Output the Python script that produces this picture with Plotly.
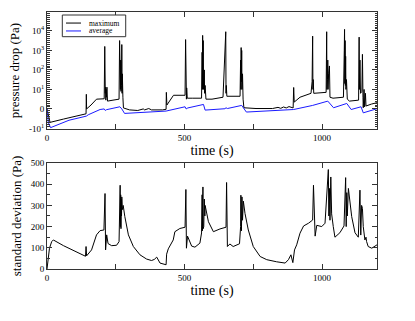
import numpy as np
import plotly.graph_objects as go
from plotly.subplots import make_subplots

# upper panel: pressure drop (Pa), drawn on a symmetric-log axis
max_time = [0, 11, 60, 100, 142, 143, 144, 160, 180, 208, 210, 212, 213, 214, 215, 216, 218, 220,
            240, 262, 264, 265, 266, 267, 268, 269, 270, 271, 272, 273, 274, 276, 278, 300, 330,
            350, 355, 370, 380, 420, 433, 434, 436, 460, 502, 504, 505, 506, 507, 508, 510, 530,
            562, 564, 565, 566, 567, 568, 569, 570, 571, 572, 573, 575, 578, 600, 640, 650, 651,
            652, 654, 690, 702, 704, 705, 706, 707, 708, 709, 711, 713, 716, 760, 820, 840, 850,
            860, 870, 880, 895, 897, 899, 920, 944, 960, 964, 966, 967, 968, 970, 990, 1015, 1017,
            1018, 1019, 1020, 1021, 1022, 1024, 1027, 1029, 1040, 1078, 1081, 1082, 1083, 1084,
            1085, 1086, 1087, 1089, 1092, 1100, 1133, 1135, 1136, 1138, 1140, 1145, 1147, 1149,
            1150, 1153, 1155, 1158, 1160, 1180, 1200]
max_pa = [0, -6.9, -5.2, -3.8, -2.5, 7.5, 0, 2, 5, 5.2, 1600, 8, 13, 4.5, 10, 6, 13, 4,
          4.5, 5, 3200, 32, 1000, 10, 320, 9, 100, 16, 2000, 8, 63, 6, 0.5, -0.5, -0.8,
          0, -0.5, 0.2, -0.5, -0.5, -0.2, 8.5, 2, 7, 7, 3600, 6, 14, 5, 12, 5.5, 5.5,
          5.5, 800, 10, 5900, 16, 3200, 10, 400, 20, 100, 8, 16, 5, 5, 6, 9100, 8,
          16, 6.5, 6.3, 6.5, 320, 10, 1400, 25, 1000, 10, 63, 5, 0.6, 0.2, 0.2, 0.8, 0.3,
          1, 0.5, 1.2, 0.5, 12.6, 3.5, 6, 7.4, 8, 25, 5400, 10, 32, 8, 8.3, 8.5, 9100,
          10, 1000, 32, 320, 10, 63, 160, 6, 5.5, 6, 1000, 12000, 20, 3200,
          16, 500, 10, 32, 5, 4, 4.5, 4800, 10, 320, 8, 9, 630, 6,
          0.6, 10, 1, 8, 1.5, 2.5, 3.2]

avg_time = [0, 5, 13, 40, 80, 143, 150, 193, 208, 212, 216, 265, 272, 282, 350, 433, 502, 506,
            512, 569, 575, 647, 651, 656, 708, 725, 897, 966, 1021, 1042, 1090, 1106, 1142,
            1150, 1200]
avg_pa = [0, -7, -9.6, -8, -5.8, -3.7, -3, -0.3, 0, -0.8, -0.4, 1.1, 0, -2.3, -1.8, -1.1, 1.1, 0,
          0.5, 2.3, -0.6, 0.1, 0.6, 0.2, 1.8, -1.6, -0.3, 1.8, 4, 0.6, 2.8, -0.3, 1.1,
          -2, 0.1]

# lower panel: standard deviation (Pa)
std_time = [0, 9, 17, 23, 60, 100, 140, 142, 144, 162, 180, 193, 207, 211, 213, 217, 222, 235,
            253, 262, 264, 265, 266, 267, 268, 269, 270, 271, 272, 274, 277, 283, 296, 314, 338,
            362, 380, 390, 399, 411, 433, 435, 441, 459, 465, 483, 502, 505, 507, 511, 526,
            538, 556, 562, 564, 565, 567, 568, 569, 570, 572, 574, 575, 587, 605, 629, 651,
            653, 656, 665, 677, 700, 704, 705, 707, 709, 711, 714, 720, 732, 750, 775, 799,
            835, 866, 878, 887, 894, 900, 908, 920, 933, 951, 966, 969, 975, 981, 999, 1011,
            1023, 1025, 1027, 1029, 1032, 1035, 1041, 1047, 1065, 1080, 1086, 1088, 1090,
            1092, 1096, 1108, 1120, 1132, 1138, 1141, 1144, 1147, 1150, 1156, 1160, 1162,
            1168, 1181, 1200]
std_pa = [0, 98, 129, 137, 110, 85, 60, 106, 62, 90, 161, 181, 184, 356, 90, 161, 120, 110,
          112, 129, 300, 180, 395, 200, 350, 190, 330, 250, 340, 280, 300, 247, 161, 106, 67,
          47, 40, 45, 56, 28, 20, 70, 95, 137, 176, 191, 197, 375, 98, 155, 108,
          103, 122, 170, 350, 180, 387, 190, 340, 200, 330, 250, 300, 223, 176, 189, 197,
          408, 106, 118, 106, 119, 200, 348, 180, 340, 230, 320, 262, 184, 106, 59, 44,
          34, 28, 44, 67, 30, 90, 114, 169, 203, 216, 231, 395, 155, 206, 200, 216,
          469, 250, 380, 230, 434, 260, 200, 150, 171, 203, 431, 200, 360,
          250, 380, 247, 171, 150, 372, 160, 300, 286, 200, 137, 150, 130,
          106, 98, 114]

p_tickvals = [-10, 0, 10, 100, 1000, 10000, 100000]
p_ticktext = ['-10<sup>1</sup>', '0', '10<sup>1</sup>', '10<sup>2</sup>',
              '10<sup>3</sup>', '10<sup>4</sup>', '10<sup>5</sup>']


def symlog(p):
    p = np.asarray(p, dtype=float)
    a = np.abs(p)
    return np.where(a <= 10, p / 10, np.sign(p) * np.log10(np.maximum(a, 1e-12)))


FONT = 'Liberation Serif'
FRAME = '#333'

fig = make_subplots(rows=2, cols=1)

fig.add_trace(go.Scatter(x=max_time, y=symlog(max_pa), mode='lines', name='maximum',
                         line=dict(color='black', width=1)), row=1, col=1)
fig.add_trace(go.Scatter(x=avg_time, y=symlog(avg_pa), mode='lines', name='average',
                         line=dict(color='#1a1aff', width=1)), row=1, col=1)
fig.add_trace(go.Scatter(x=std_time, y=std_pa, mode='lines', name='std',
                         line=dict(color='black', width=1)), row=2, col=1)

axis_common = dict(showline=True, linecolor=FRAME, linewidth=1, mirror='ticks',
                   ticks='inside', tickcolor=FRAME, showgrid=False, zeroline=False,
                   automargin=False, tickfont=dict(family=FONT, size=9, color='black'))

x_common = dict(axis_common, range=[0, 1200], tickvals=[0, 250, 500, 750, 1000],
                ticktext=['0', '', '500', '', '1000'], ticklen=5,
                title=dict(text='time (s)', font=dict(family=FONT, size=14, color='black'),
                           standoff=2))

fig.update_xaxes(x_common, row=1, col=1)
fig.update_xaxes(x_common, row=2, col=1)

fig.update_yaxes(axis_common, row=1, col=1, range=[-1.03, 4.97],
                 tickvals=symlog(p_tickvals), ticktext=p_ticktext, ticklen=5,
                 minor=dict(tickmode='linear', tick0=0, dtick=0.1, ticklen=2.5,
                            ticks='inside', tickcolor=FRAME),
                 title=dict(text='pressure drop (Pa)',
                            font=dict(family=FONT, size=13, color='black'), standoff=6))
fig.update_yaxes(axis_common, row=2, col=1, range=[0, 500], dtick=100, ticklen=5,
                 minor=dict(dtick=50, ticklen=2.5, ticks='inside', tickcolor=FRAME),
                 title=dict(text='standard deviation (Pa)',
                            font=dict(family=FONT, size=13, color='black'), standoff=6))

fig.update_layout(
    xaxis=dict(domain=[0, 1]), yaxis=dict(domain=[0.5447, 1]),
    xaxis2=dict(domain=[0, 1]), yaxis2=dict(domain=[0, 0.4125]),
    width=415, height=321, margin=dict(l=47, r=38, t=12, b=52),
    paper_bgcolor='white', plot_bgcolor='white', showlegend=False,
)

# hand-drawn legend box in the upper-left of the upper panel
fig.add_shape(type='rect', xref='paper', yref='paper', x0=0.0464, x1=0.2385,
              y0=0.9039, y1=0.9883, line=dict(color=FRAME, width=1), fillcolor='white')
for yy, col, label in [(0.957, 'black', 'maximum'), (0.9262, '#1a1aff', 'average')]:
    fig.add_shape(type='line', xref='paper', yref='paper', x0=0.0576, x1=0.103,
                  y0=yy, y1=yy, line=dict(color=col, width=1))
    fig.add_annotation(x=0.1203, y=yy, xref='paper', yref='paper', text=label,
                       showarrow=False, xanchor='left', yanchor='middle',
                       font=dict(family=FONT, size=7.5, color='black'))

# drop the browser's default body margin so the figure sits at the page corner
fig.write_html("out.html", config={'displayModeBar': False},
               post_script="document.body.style.margin='0';")
